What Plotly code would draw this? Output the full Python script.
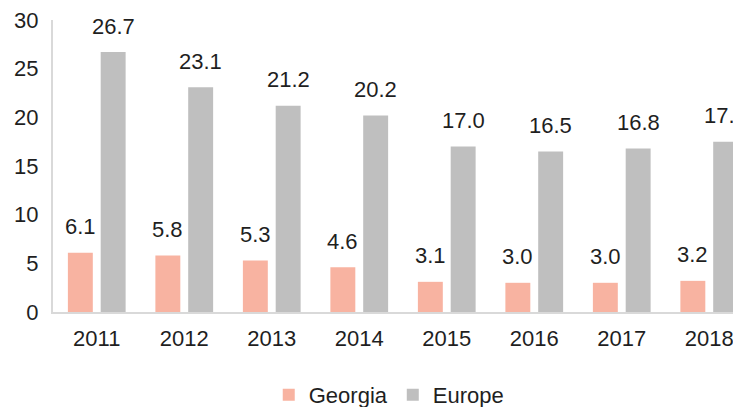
import plotly.graph_objects as go

years = ["2011", "2012", "2013", "2014", "2015", "2016", "2017", "2018"]
georgia = [6.1, 5.8, 5.3, 4.6, 3.1, 3.0, 3.0, 3.2]
europe = [26.7, 23.1, 21.2, 20.2, 17.0, 16.5, 16.8, 17.5]
y_ticks = [0, 5, 10, 15, 20, 25, 30]

# page body has an 8px default margin, so the figure is 8px smaller each way
W, H = 733, 399
ML, MR, MT, MB = 45, 0, 12, 95
BARGAP, BARGROUPGAP = 0.25, 0.24
CAT_PX = 87.5
plot_w = W - ML - MR
x_hi = -0.5 + plot_w / CAT_PX
slot_px = CAT_PX * (1 - BARGAP) / 2
shift = slot_px / 2

FONT = "Liberation Sans, Arial, sans-serif"
TXT = "#1f1f1f"
FS = 22

fig = go.Figure()
fig.add_trace(go.Bar(name="Georgia", x=years, y=georgia, marker_color="#F8B3A1",
                     marker_line_width=0))
fig.add_trace(go.Bar(name="Europe", x=years, y=europe, marker_color="#BFBFBF",
                     marker_line_width=0))

annotations = []
for xs, vals in ((-shift, georgia), (shift, europe)):
    for i, v in enumerate(vals):
        annotations.append(dict(x=i, y=v, xref="x", yref="y", text=f"{v:.1f}",
                                showarrow=False, xshift=xs, yshift=26,
                                yanchor="middle", xanchor="center",
                                font=dict(family=FONT, size=FS, color=TXT)))

fig.update_layout(
    width=W, height=H,
    margin=dict(l=ML, r=MR, t=MT, b=MB, autoexpand=False),
    plot_bgcolor="white", paper_bgcolor="white",
    barmode="group", bargap=BARGAP, bargroupgap=BARGROUPGAP,
    font=dict(family=FONT, size=FS, color=TXT),
    annotations=annotations,
    legend=dict(orientation="h", x=0.488, xanchor="center", y=-0.284, yanchor="middle",
                font=dict(size=FS, color=TXT), itemwidth=30, tracegroupgap=0),
    xaxis=dict(type="category", range=[-0.5, x_hi], showgrid=False, showline=True,
               linecolor="#D9D9D9", linewidth=2, ticks="", ticklabelstandoff=6,
               ticklabeloverflow="allow", tickfont=dict(size=FS)),
    yaxis=dict(range=[0, 30], tickvals=y_ticks, showgrid=False, showline=True,
               linecolor="#D9D9D9", linewidth=2, ticks="", zeroline=False,
               ticklabelstandoff=8, ticklabeloverflow="allow", tickfont=dict(size=FS)),
)

fig.write_html("out.html")
